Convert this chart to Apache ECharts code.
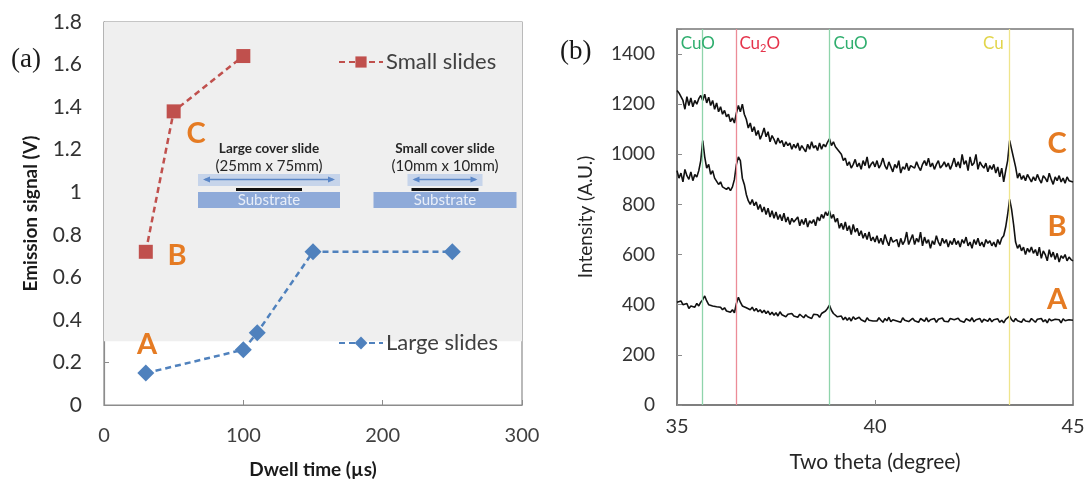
<!DOCTYPE html>
<html>
<head>
<meta charset="utf-8">
<script src="https://cdn.jsdelivr.net/npm/echarts@6/dist/echarts.min.js"></script>
<style>
  html, body { margin: 0; padding: 0; background: #ffffff; }
  #chart { width: 1091px; height: 485px; }
</style>
</head>
<body>
<div id="chart"></div>
<script>
// ---- Panel (a): emission signal vs dwell time ----
const dwellSmall = [30, 50, 100];
const signalSmall = [0.72, 1.38, 1.64];
const dwellLarge = [30, 100, 110, 150, 250];
const signalLarge = [0.15, 0.26, 0.34, 0.72, 0.72];
const dwellTicks = { min: 0, max: 300, interval: 100 };
const signalTicks = { min: 0, max: 1.8, interval: 0.2 };

// ---- Panel (b): XRD scans, two theta 35..45 sampled every 0.05 degree ----
const thetaStart = 35;
const thetaStep = 0.05;
const scanC = [
  1255, 1245, 1250, 1215, 1180, 1230, 1195, 1225, 1190, 1215, 1200, 1222, 1235, 1215, 1240, 1205, 1228, 1195, 1215, 1180,
  1205, 1170, 1190, 1160, 1175, 1150, 1160, 1130, 1145, 1125, 1165, 1195, 1170, 1200, 1160, 1140, 1105, 1125, 1090, 1110,
  1075, 1095, 1060, 1080, 1105, 1070, 1090, 1050, 1075, 1060, 1040, 1065, 1045, 1055, 1030, 1050, 1035, 1045, 1020, 1040,
  1025, 1045, 1015, 1035, 1030, 1010, 1040, 1020, 1050, 1025, 1035, 1015, 1045, 1020, 1040, 1030, 1048, 1062, 1035, 1050,
  1030, 1035, 1010, 1000, 975, 985, 955, 970, 945, 960, 980, 950, 965, 940, 975, 955, 990, 945, 960, 970,
  950, 975, 945, 960, 985, 955, 940, 970, 950, 930, 960, 945, 975, 925, 950, 940, 965, 935, 955, 960,
  945, 970, 950, 935, 960, 975, 955, 985, 950, 965, 940, 960, 975, 945, 955, 970, 950, 965, 940, 960,
  985, 950, 970, 945, 1000, 960, 975, 935, 990, 955, 965, 1000, 940, 970, 955, 945, 965, 930, 955, 940,
  960, 925, 950, 910, 945, 890, 935, 975, 1055, 1020, 985, 950, 905, 925, 900, 915, 895, 920, 905, 890,
  910, 895, 920, 900, 885, 915, 905, 890, 925, 900, 880, 910, 895, 915, 890, 905, 885, 910, 895, 900,
  890
];
const scanB = [
  935, 905, 925, 890, 940, 915, 900, 930, 895, 920, 910, 935, 975, 1055, 990, 945, 960, 920, 935, 905,
  910, 880, 890, 870, 875, 860, 868, 855, 870, 900, 960, 990, 975, 905, 880, 840, 815, 800, 820, 795,
  810, 780, 800, 770, 790, 760, 785, 750, 775, 745, 770, 740, 760, 735, 765, 730, 750, 720, 745, 730,
  725, 750, 715, 740, 720, 745, 710, 735, 725, 740, 715, 750, 735, 760, 745, 770, 755, 775, 745, 760,
  730, 745, 705, 725, 700, 730, 695, 715, 680, 720, 690, 705, 675, 695, 665, 685, 660, 690, 655, 670,
  650, 675, 645, 665, 640, 680, 655, 635, 670, 650, 645, 660, 630, 665, 640, 655, 690, 640, 660, 680,
  640, 665, 650, 690, 635, 670, 645, 660, 625, 655, 640, 675, 650, 635, 665, 645, 660, 630, 655, 640,
  665, 640, 655, 630, 660, 645, 670, 635, 650, 625, 660, 640, 665, 635, 650, 630, 660, 645, 655, 635,
  650, 630, 660, 640, 665, 675, 710, 760, 820, 780, 720, 650, 625, 640, 615, 630, 600, 625, 610, 630,
  605, 620, 595, 630, 585, 615, 600, 575, 620, 590, 610, 580, 605, 570, 595, 585, 600, 575, 590, 580,
  575
];
const scanA = [
  410, 405, 415, 400, 395, 405, 385, 395, 400, 390, 405, 395, 410, 420, 435, 415, 400, 405, 395, 390,
  392, 385, 390, 380, 388, 375, 382, 370, 380, 368, 405, 430, 410, 395, 400, 388, 395, 380, 390, 375,
  385, 372, 380, 368, 378, 365, 375, 360, 370, 358, 368, 355, 372, 360, 365, 352, 362, 358, 365, 355,
  360, 350, 362, 355, 348, 360, 352, 358, 345, 362, 355, 360, 350, 365, 370, 375, 385, 398, 378, 365,
  360, 352, 345, 355, 340, 350, 338, 348, 335, 352, 342, 336, 350, 340, 345, 332, 348, 338, 344, 335,
  342, 335, 348, 338, 330, 345, 336, 350, 332, 340, 345, 335, 342, 330, 348, 338, 344, 333, 340, 346,
  336, 342, 330, 345, 338, 334, 348, 332, 340, 336, 345, 330, 342, 338, 347, 334, 340, 332, 345, 338,
  340, 333, 346, 336, 342, 330, 344, 338, 335, 348, 332, 340, 336, 345, 330, 342, 338, 334, 346, 332,
  340, 336, 344, 330, 338, 328, 342, 335, 355, 340, 332, 345, 336, 340, 330, 344, 335, 340, 332, 345,
  338, 330, 342, 335, 345, 332, 340, 328, 344, 336, 330, 342, 335, 340, 328, 344, 336, 332, 340, 335,
  338
];
const thetaTicks = { min: 35, max: 45, interval: 5 };
const intensityTicks = { min: 0, max: 1500, interval: 200 };

// Reference peak positions (two theta) and their phase names
const peakPositions = [35.65, 36.5, 38.85, 43.4];
const peakNames = ['CuO', 'Cu{sub|2}O', 'CuO', 'Cu'];
const peakColors = ['#2fae6e', '#e5334b', '#2fae6e', '#e2d54a'];
const peakLineColors = ['#8fd4ab', '#ec8c97', '#8fd4ab', '#efe58c'];

const sans = 'Lato, "Open Sans", sans-serif';
const serif = '"Liberation Serif", "DejaVu Serif", serif';
const axisGrey = '#8c8c8c';
const orange = '#e57b23';

function zip(xs, ys) { return xs.map((x, i) => [x, ys[i]]); }
function scan(values) { return values.map((v, i) => [+(thetaStart + i * thetaStep).toFixed(2), v]); }

const chart = echarts.init(document.getElementById('chart'), null, { renderer: 'canvas' });

const option = {
  animation: false,
  backgroundColor: '#ffffff',
  grid: [
    { left: 104, top: 22, width: 418, height: 383, show: true, borderColor: axisGrey, borderWidth: 1.2, backgroundColor: 'transparent' },
    { left: 677, top: 29, width: 396, height: 376, show: true, borderColor: '#777777', borderWidth: 1.5, backgroundColor: 'transparent' }
  ],
  xAxis: [
    {
      gridIndex: 0, type: 'value', ...dwellTicks,
      name: 'Dwell time (\u00b5s)', nameLocation: 'middle', nameGap: 55,
      nameTextStyle: { fontFamily: sans, fontSize: 19, fontWeight: 'bold', color: '#1a1a1a' },
      axisLine: { lineStyle: { color: axisGrey, width: 1.2 } },
      axisTick: { inside: true, length: 5, lineStyle: { color: axisGrey } },
      axisLabel: { fontFamily: sans, fontSize: 20, color: '#404040', margin: 21 },
      splitLine: { show: false }
    },
    {
      gridIndex: 1, type: 'value', ...thetaTicks,
      name: 'Two theta (degree)', nameLocation: 'middle', nameGap: 47,
      nameTextStyle: { fontFamily: sans, fontSize: 21, color: '#262626' },
      axisLine: { lineStyle: { color: '#777777', width: 1.5 } },
      axisTick: { inside: true, length: 5, lineStyle: { color: axisGrey } },
      axisLabel: { fontFamily: sans, fontSize: 20, color: '#333333', margin: 12 },
      splitLine: { show: false }
    }
  ],
  yAxis: [
    {
      gridIndex: 0, type: 'value', ...signalTicks,
      name: 'Emission signal (V)', nameLocation: 'middle', nameGap: 64,
      nameTextStyle: { fontFamily: sans, fontSize: 19, fontWeight: 'bold', color: '#1a1a1a' },
      axisLine: { show: true, lineStyle: { color: axisGrey, width: 1.2 } },
      axisTick: { show: true, inside: true, length: 5, lineStyle: { color: axisGrey } },
      axisLabel: { fontFamily: sans, fontSize: 21, color: '#333333', margin: 22 },
      splitLine: { show: false }
    },
    {
      gridIndex: 1, type: 'value', ...intensityTicks,
      name: 'Intensity (A.U.)', nameLocation: 'middle', nameGap: 82,
      nameTextStyle: { fontFamily: sans, fontSize: 19, color: '#262626' },
      axisLine: { show: true, lineStyle: { color: '#777777', width: 1.5 } },
      axisTick: { show: true, inside: true, length: 5, lineStyle: { color: axisGrey } },
      axisLabel: {
        fontFamily: sans, fontSize: 19, color: '#333333', margin: 22,
        formatter: v => (v > 1400 ? '' : String(v))
      },
      splitLine: { show: false }
    }
  ],
  legend: [
    {
      data: ['Small slides'], left: 333, top: 46, itemWidth: 44, itemHeight: 14, itemGap: 4,
      textStyle: { fontFamily: sans, fontSize: 22, color: '#404040', padding: [0, 0, 0, -2] }
    },
    {
      data: ['Large slides'], left: 333, top: 327, itemWidth: 44, itemHeight: 16, itemGap: 4,
      textStyle: { fontFamily: sans, fontSize: 22, color: '#404040', padding: [0, 0, 0, -2] }
    }
  ],
  series: [
    {
      name: 'Small slides', type: 'line', xAxisIndex: 0, yAxisIndex: 0,
      data: zip(dwellSmall, signalSmall),
      symbol: 'rect', symbolSize: 14,
      itemStyle: { color: '#c0504d' },
      lineStyle: { color: '#c0504d', width: 2.5, type: [6, 4] },
      z: 3,
      markArea: {
        silent: true,
        itemStyle: { color: '#efefef' },
        data: [[{ xAxis: dwellTicks.min, yAxis: 0.3 }, { xAxis: dwellTicks.max, yAxis: signalTicks.max }]]
      }
    },
    {
      name: 'Large slides', type: 'line', xAxisIndex: 0, yAxisIndex: 0,
      data: zip(dwellLarge, signalLarge),
      symbol: 'diamond', symbolSize: 17,
      itemStyle: { color: '#4f81bd' },
      lineStyle: { color: '#4f81bd', width: 2.5, type: [6, 4] },
      z: 3
    },
    {
      name: 'A', type: 'line', xAxisIndex: 1, yAxisIndex: 1, data: scan(scanA),
      showSymbol: false, lineStyle: { color: '#111111', width: 1.6 }, z: 3,
      markLine: {
        silent: true, symbol: 'none', label: { show: false },
        data: peakPositions.map((p, i) => ({ xAxis: p, lineStyle: { color: peakLineColors[i], width: 1.3, type: 'solid' } }))
      }
    },
    { name: 'B', type: 'line', xAxisIndex: 1, yAxisIndex: 1, data: scan(scanB), showSymbol: false, lineStyle: { color: '#111111', width: 1.6 }, z: 3 },
    { name: 'C', type: 'line', xAxisIndex: 1, yAxisIndex: 1, data: scan(scanC), showSymbol: false, lineStyle: { color: '#111111', width: 1.6 }, z: 3 }
  ]
};
chart.setOption(option);

// ---- Overlay: panel tags, sample letters, cover-slide sketch, peak names ----
function letter(x, y, t) {
  return { type: 'text', x, y, z: 20, style: { text: t, fontFamily: sans, fontSize: 29, fontWeight: 'bold', fill: orange, align: 'center', verticalAlign: 'middle' } };
}
function sketch(cx, coverW, filmW, subW, title, size) {
  const arrowW = coverW - 14;
  return [
    { type: 'text', x: cx, y: 149, z: 20, style: { text: title, fontFamily: sans, fontSize: 13.5, fontWeight: 'bold', fill: '#262626', align: 'center', verticalAlign: 'middle' } },
    { type: 'text', x: cx, y: 166, z: 20, style: { text: size, fontFamily: sans, fontSize: 15, fill: '#262626', align: 'center', verticalAlign: 'middle' } },
    { type: 'rect', z: 19, shape: { x: cx - coverW / 2, y: 174, width: coverW, height: 12 }, style: { fill: '#c6d4ea' } },
    { type: 'line', z: 20, shape: { x1: cx - arrowW / 2, y1: 179.5, x2: cx + arrowW / 2, y2: 179.5 }, style: { stroke: '#5b87c7', lineWidth: 1.3 } },
    { type: 'polygon', z: 20, shape: { points: [[cx - arrowW / 2 - 2, 179.5], [cx - arrowW / 2 + 5, 176.5], [cx - arrowW / 2 + 5, 182.5]] }, style: { fill: '#5b87c7' } },
    { type: 'polygon', z: 20, shape: { points: [[cx + arrowW / 2 + 2, 179.5], [cx + arrowW / 2 - 5, 176.5], [cx + arrowW / 2 - 5, 182.5]] }, style: { fill: '#5b87c7' } },
    { type: 'rect', z: 20, shape: { x: cx - filmW / 2, y: 188, width: filmW, height: 3 }, style: { fill: '#111111' } },
    { type: 'rect', z: 19, shape: { x: cx - subW / 2, y: 192, width: subW, height: 16 }, style: { fill: '#8eaad9' } },
    { type: 'text', x: cx, y: 200, z: 20, style: { text: 'Substrate', fontFamily: sans, fontSize: 15, fill: '#e8eef8', align: 'center', verticalAlign: 'middle' } }
  ];
}

const elements = [
  { type: 'text', x: 11, y: 60, z: 20, style: { text: '(a)', fontFamily: serif, fontSize: 27, fill: '#1a1a1a', verticalAlign: 'middle' } },
  { type: 'text', x: 560, y: 52, z: 20, style: { text: '(b)', fontFamily: serif, fontSize: 27, fill: '#1a1a1a', verticalAlign: 'middle' } },
  letter(196, 134, 'C'), letter(177, 256, 'B'), letter(147, 345, 'A'),
  letter(1057, 144, 'C'), letter(1057, 227, 'B'), letter(1057, 300, 'A'),
  ...sketch(269, 142, 66, 142, 'Large cover slide', '(25mm x 75mm)'),
  ...sketch(445, 75, 67, 143, 'Small cover slide', '(10mm x 10mm)')
];

// Peak names sit along the top edge beside each reference line
const peakAlign = ['center', 'left', 'left', 'right'];
const peakShift = [-5, 3, 4, -6];
peakPositions.forEach((p, i) => {
  const px = chart.convertToPixel({ xAxisIndex: 1, yAxisIndex: 1 }, [p, 0])[0];
  elements.push({
    type: 'text', x: px + peakShift[i], y: 44, z: 20,
    style: {
      text: peakNames[i], fontFamily: sans, fontSize: 17, fill: peakColors[i], align: peakAlign[i], verticalAlign: 'middle',
      rich: { sub: { fontFamily: sans, fontSize: 11, fill: peakColors[i], padding: [9, 0, 0, 0] } }
    }
  });
});

chart.setOption({ graphic: { elements } });
</script>
</body>
</html>
